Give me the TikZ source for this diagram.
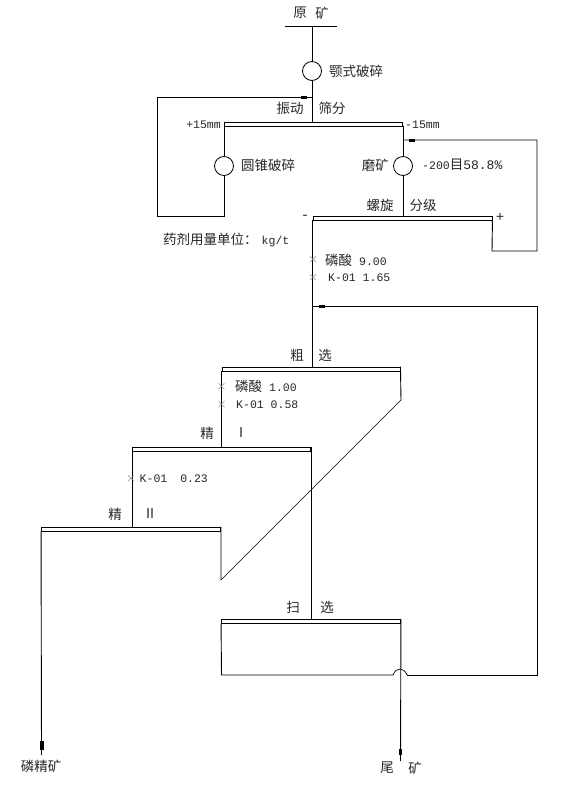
\documentclass[tikz,border=0pt]{standalone}
\usepackage{fontspec}
\setmainfont{Liberation Mono}
\newfontfamily\cjk{Noto Sans CJK SC}
\usepackage{tikz}
\usetikzlibrary{positioning,calc}
\newcommand{\Zh}[1]{{\cjk\fontsize{13.5}{16}\selectfont #1}}
\tikzset{
  flow/.style={line width=0.9pt, black},
  mill/.style={circle, draw, line width=0.8pt, minimum size=19pt, inner sep=0pt},
  bar/.style={rectangle, draw, line width=0.9pt, minimum height=4pt, inner sep=0pt},
  blob/.style={rectangle, fill=black, inner sep=0pt, minimum width=6pt, minimum height=3pt},
  txt/.style={inner sep=0pt, font=\fontsize{11.5}{13}\selectfont, text=black!85},
  sign/.style={inner sep=0pt, font=\fontsize{14}{15}\selectfont, text=black!85},
  dose/.style={inner sep=0pt, font=\cjk\fontsize{10}{12}\selectfont, text=black!45}
}

\begin{document}
\begin{tikzpicture}[x=1pt, y=-1pt]
\useasboundingbox (0,0) rectangle (561,787);

% Crushing and screening
\coordinate (rawL) at (285,26);
\coordinate (rawR) at (337,26);
\coordinate (rawM) at (312,26);
\node[mill] (jaw) at (312,71) {};
\node[bar, minimum width=178pt] (screen) at (313,124) {};
\node[mill] (cone) at (224,166) {};
\node[mill] (grind) at (403,166) {};
\coordinate (recycleA) at (312,97);
\coordinate (recycleB) at (157,97);
\coordinate (recycleC) at (157,216);
\coordinate (recycleD) at (224,216);
\draw[flow] (rawL) -- (rawR);
\draw[flow] (rawM) -- (jaw);
\draw[flow] (jaw) -- (jaw |- screen.north);
\draw[flow] (recycleA) -- (recycleB) -- (recycleC) -- (recycleD) -- (cone);
\draw[flow] (cone) -- (cone |- screen.south);
\node[blob] (blobA) at (304,97) {};

% Classifier with its return
\node[bar, minimum width=179pt] (spiral) at (402.5,218) {};
\coordinate (backA) at (492,251);
\coordinate (backB) at (537,251);
\coordinate (backC) at (537,140);
\coordinate (backD) at (403,140);
\draw[flow] (grind |- screen.south) -- (grind);
\draw[flow] (grind) -- (grind |- spiral.north);
\draw[flow] (spiral.south east) -- (backA) -- (backB) -- (backC) -- (backD);
\node[blob] (blobB) at (412,140) {};

% Flotation stages
\node[bar, minimum width=178pt] (rough) at (311,369) {};
\node[bar, minimum width=178pt] (cleanA) at (221.5,449) {};
\node[bar, minimum width=179pt] (cleanB) at (131,529) {};
\node[bar, minimum width=179pt] (scav) at (311,621.5) {};
\coordinate (diagA) at (401,400);
\coordinate (diagB) at (221,580);
\draw[flow] (spiral.south west) -- (spiral.south west |- rough.north);
\draw[flow] (rough.south west) -- (rough.south west |- cleanA.north);
\draw[flow] (cleanA.south west) -- (cleanA.south west |- cleanB.north);
\draw[flow] (rough.north east) -- (diagA);
\draw[line width=0.6pt] (diagA) -- (diagB);
\draw[flow] (cleanB.north east) -- (diagB);
\draw[flow] (cleanA.north east) -- (cleanA.north east |- scav.north);

% Scavenger return, hopping over the tailings line
\coordinate (loopA) at (221.5,675);
\coordinate (hopL) at (393,675);
\coordinate (hopR) at (407,675);
\coordinate (loopB) at (537,675);
\coordinate (loopC) at (537,306);
\coordinate (loopD) at (313,306);
\draw[flow] (scav.south west) -- (loopA) -- (hopL);
\draw[line width=0.7pt] (hopL) .. controls (396,667) and (404,667) .. (hopR);
\draw[flow] (hopR) -- (loopB) -- (loopC) -- (loopD);
\node[blob] (blobC) at (322,306) {};

% Products
\coordinate (endCon) at (41.5,755);
\coordinate (endTail) at (400.5,761);
\draw[flow] (cleanB.south west) -- (endCon);
\draw[flow] (scav.north east) -- (endTail);
\node[blob, minimum width=4pt, minimum height=9pt] (blobD) at (41.7,745.5) {};
\node[blob, minimum width=3pt, minimum height=6pt] (blobE) at (400.5,752) {};

% Labels
\node[txt] (rawA) at (300,13) {\Zh{原}};
\node[txt] (rawB) at (322,13) {\Zh{矿}};
\node[txt, anchor=west] (jawT) at (329,71) {\Zh{颚式破碎}};
\node[txt] (scrA) at (290,108) {\Zh{振动}};
\node[txt] (scrB) at (332,108) {\Zh{筛分}};
\node[txt, anchor=east] (plusS) at (221,125) {+15mm};
\node[txt, anchor=west] (minusS) at (405,125) {-15mm};
\node[txt, anchor=west] (coneT) at (241,165) {\Zh{圆锥破碎}};
\node[txt, anchor=east] (grindT) at (389,165) {\Zh{磨矿}};
\node[txt, anchor=west] (sizeT) at (422,165) {-200\Zh{目}{\fontsize{13}{15}\selectfont 58.8\%}};
\node[txt] (spiA) at (380,205) {\Zh{螺旋}};
\node[txt] (spiB) at (423,205) {\Zh{分级}};
\node[sign] (minusC) at (305,217) {-};
\node[sign] (plusC) at (500,217) {+};
\node[txt, anchor=west] (unitT) at (163,240) {\Zh{药剂用量单位：}\hspace{4pt}kg/t};
\node[dose] (doseA) at (313,260) {×};
\node[dose] (doseB) at (313,278) {×};
\node[txt, anchor=west] (doseAT) at (325,260) {\Zh{磷酸} 9.00};
\node[txt, anchor=west] (doseBT) at (328,278) {K-01 1.65};
\node[txt] (rouA) at (297,355) {\Zh{粗}};
\node[txt] (rouB) at (325,355) {\Zh{选}};
\node[dose] (doseC) at (221.5,387) {×};
\node[dose] (doseD) at (221.5,405) {×};
\node[txt, anchor=west] (doseCT) at (235,386) {\Zh{磷酸} 1.00};
\node[txt, anchor=west] (doseDT) at (236,405) {K-01 0.58};
\node[txt] (clnA) at (207,433) {\Zh{精}};
\node[txt] (clnB) at (241,433) {\Zh{Ⅰ}};
\node[dose] (doseE) at (131,479) {×};
\node[txt, anchor=west] (doseET) at (139.5,479) {K-01\hspace{13pt}0.23};
\node[txt] (clnC) at (115,514) {\Zh{精}};
\node[txt] (clnD) at (150,514) {\Zh{Ⅱ}};
\node[txt] (scaA) at (293,607) {\Zh{扫}};
\node[txt] (scaB) at (327,607) {\Zh{选}};
\node[txt] (conT) at (41,766) {\Zh{磷精矿}};
\node[txt] (tailA) at (387,768) {\Zh{尾}};
\node[txt] (tailB) at (415,768) {\Zh{矿}};

\end{tikzpicture}
\end{document}
